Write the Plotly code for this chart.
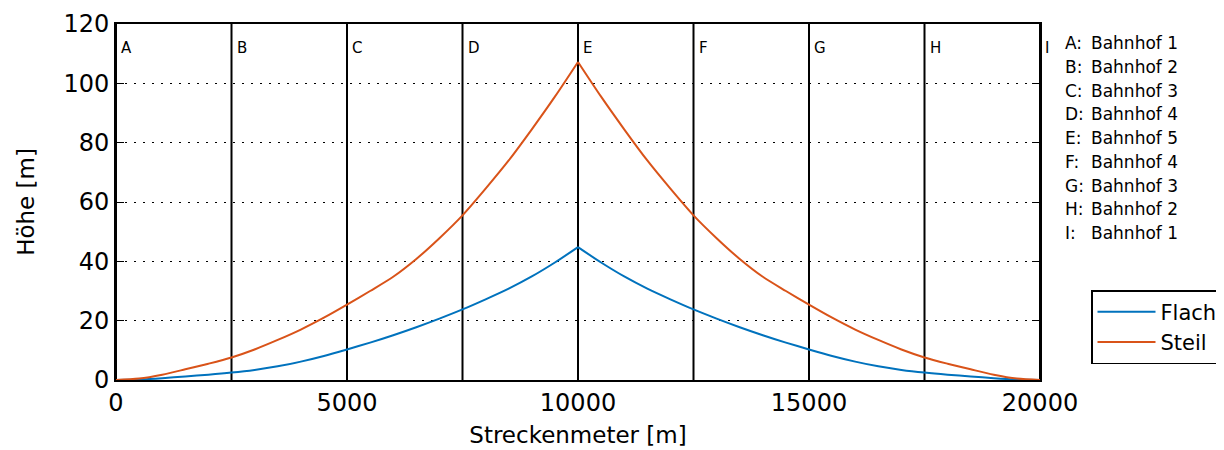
import plotly.graph_objects as go

# Data
strecke = [0, 500, 1000, 1500, 2000, 2500, 3000, 3500, 4000, 4500, 5000,
           5500, 6000, 6500, 7000, 7500, 8000, 8500, 9000, 9500, 10000,
           10500, 11000, 11500, 12000, 12500, 13000, 13500, 14000, 14500, 15000,
           15500, 16000, 16500, 17000, 17500, 18000, 18500, 19000, 19500, 20000]
flach = [0, 0.15, 0.6, 1.2, 1.8, 2.5, 3.4, 4.6, 6.2, 8.1, 10.3,
         12.6, 15.1, 17.8, 20.7, 23.8, 27.2, 30.8, 34.9, 39.6, 44.8,
         39.6, 34.9, 30.8, 27.2, 23.8, 20.7, 17.8, 15.1, 12.6, 10.3,
         8.1, 6.2, 4.6, 3.4, 2.5, 1.8, 1.2, 0.6, 0.15, 0]
steil = [0, 0.5, 1.8, 3.6, 5.5, 7.6, 10.3, 13.5, 17.0, 21.0, 25.4,
         30.0, 34.8, 40.8, 47.8, 55.5, 64.5, 74.0, 84.5, 95.5, 107.2,
         95.5, 84.5, 74.0, 64.5, 55.5, 47.8, 40.8, 34.8, 30.0, 25.4,
         21.0, 17.0, 13.5, 10.3, 7.6, 5.5, 3.6, 1.8, 0.5, 0]
stationen_x = [0, 2500, 5000, 7500, 10000, 12500, 15000, 17500, 20000]
stationen_kuerzel = ["A", "B", "C", "D", "E", "F", "G", "H", "I"]
stationen_namen = ["Bahnhof 1", "Bahnhof 2", "Bahnhof 3", "Bahnhof 4", "Bahnhof 5",
                   "Bahnhof 4", "Bahnhof 3", "Bahnhof 2", "Bahnhof 1"]
y_ticks = [0, 20, 40, 60, 80, 100, 120]
x_ticks = [0, 5000, 10000, 15000, 20000]

FONT = "DejaVu Sans"
BODY = 8  # default page body margin
fig = go.Figure()

# station vertical lines
for sx in stationen_x:
    fig.add_trace(go.Scatter(x=[sx, sx], y=[0, 120], mode="lines",
                             line=dict(color="black", width=2),
                             showlegend=False, hoverinfo="skip"))

peak = strecke.index(10000)
series = [("Flach", flach, "#0072BD"), ("Steil", steil, "#D95319")]
for name, vals, col in series:
    # rising and falling part drawn separately so the summit stays sharp
    fig.add_trace(go.Scatter(x=strecke[:peak + 1], y=vals[:peak + 1], mode="lines",
                             name=name, legendgroup=name,
                             line=dict(color=col, width=2, shape="spline", smoothing=0.8)))
    fig.add_trace(go.Scatter(x=strecke[peak:], y=vals[peak:], mode="lines",
                             name=name, legendgroup=name, showlegend=False,
                             line=dict(color=col, width=2, shape="spline", smoothing=0.8)))

annotations = []
for sx, k in zip(stationen_x, stationen_kuerzel):
    annotations.append(dict(x=sx, y=112, xref="x", yref="y", text=k,
                            showarrow=False, xanchor="left", yanchor="middle",
                            xshift=3, font=dict(family=FONT, size=15, color="black")))

plot_l, plot_r, plot_top, plot_bottom = 116, 1040, 24, 380
pw, ph = plot_r - plot_l, plot_bottom - plot_top
for i, (k, n) in enumerate(zip(stationen_kuerzel, stationen_namen)):
    ypx = 43 + i * 23.75
    yp = (plot_bottom - ypx) / ph
    annotations.append(dict(x=(1063 - plot_l) / pw, y=yp, xref="paper", yref="paper",
                            text=k + ":", showarrow=False, xanchor="left", yanchor="middle",
                            font=dict(family=FONT, size=17, color="black")))
    annotations.append(dict(x=(1089 - plot_l) / pw, y=yp, xref="paper", yref="paper",
                            text=n, showarrow=False, xanchor="left", yanchor="middle",
                            font=dict(family=FONT, size=17, color="black")))

fig.update_layout(
    width=1224, height=450,
    margin=dict(l=plot_l - BODY, r=1224 - plot_r + BODY, t=plot_top - BODY,
                b=450 - plot_bottom + BODY, autoexpand=False),
    paper_bgcolor="white", plot_bgcolor="white",
    font=dict(family=FONT, color="black"),
    annotations=annotations,
    showlegend=True,
    legend=dict(x=(1091 - plot_l) / pw, y=(plot_bottom - 290) / ph, xanchor="left", yanchor="top",
                bordercolor="black", borderwidth=1.5, bgcolor="white",
                font=dict(family=FONT, size=21, color="black"),
                itemwidth=58, tracegroupgap=0),
    xaxis=dict(range=[0, 20000], tickvals=x_ticks, ticktext=[str(v) for v in x_ticks],
               automargin=False,
               showgrid=False, zeroline=False, showline=True, linecolor="black", linewidth=2,
               mirror="ticks", ticks="inside", ticklen=8, tickcolor="black", tickwidth=1,
               tickfont=dict(family=FONT, size=24, color="black"),
               title=dict(text="Streckenmeter [m]", font=dict(family=FONT, size=23, color="black"),
                          standoff=11)),
    yaxis=dict(range=[0, 120], tickvals=y_ticks, ticktext=[str(v) for v in y_ticks],
               automargin=False,
               showgrid=True, gridcolor="black", gridwidth=1, griddash="2px,7px",
               zeroline=False, showline=True, linecolor="black", linewidth=2,
               mirror="ticks", ticks="inside", ticklen=8, tickcolor="black", tickwidth=1,
               tickfont=dict(family=FONT, size=24, color="black"),
               title=dict(text="Höhe [m]", font=dict(family=FONT, size=23, color="black"),
                          standoff=22)),
)

fig.write_html("out.html")
